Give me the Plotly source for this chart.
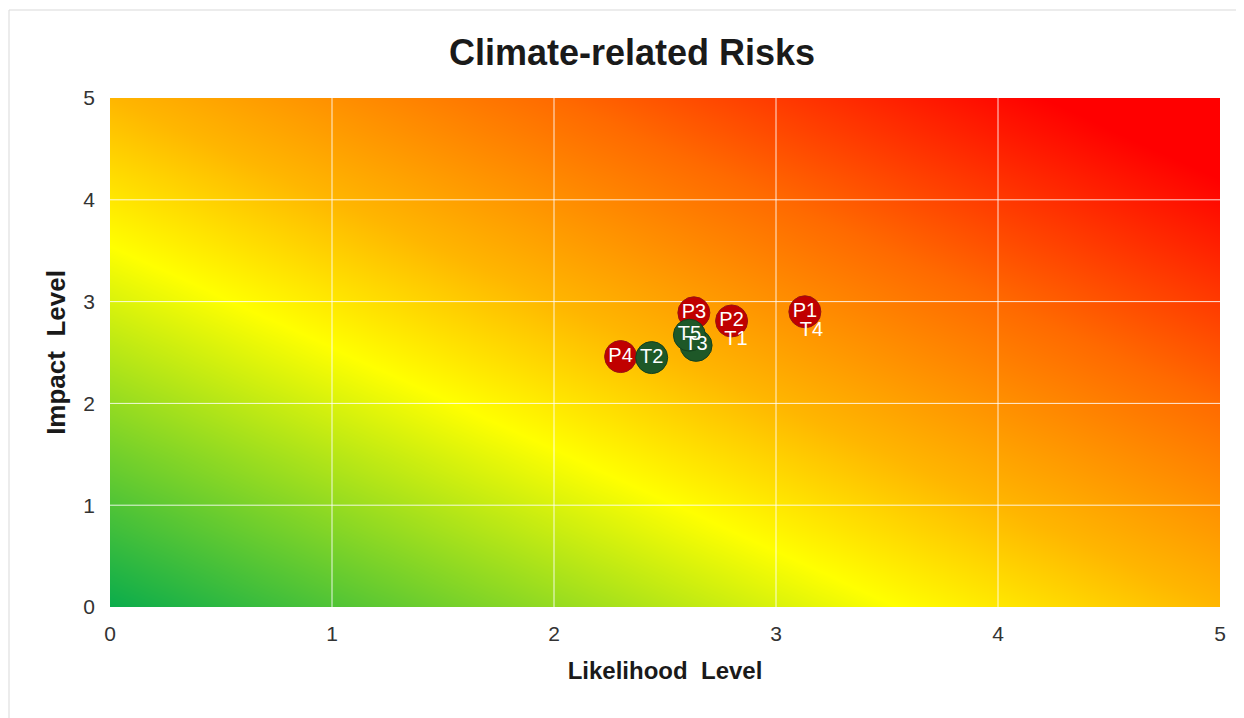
import numpy as np
import plotly.graph_objects as go

# ---- data ----
p_labels = ["P1", "P2", "P3", "P4"]
p_x = [3.13, 2.80, 2.63, 2.30]
p_y = [2.90, 2.81, 2.89, 2.46]

t_labels = ["T1", "T2", "T3", "T4", "T5"]
t_x = [2.82, 2.44, 2.64, 3.16, 2.61]
t_y = [2.62, 2.45, 2.57, 2.71, 2.67]
t_visible = [False, True, True, False, True]

x_ticks = [0, 1, 2, 3, 4, 5]
y_ticks = [0, 1, 2, 3, 4, 5]

FONT = "Arial, Liberation Sans, sans-serif"

# ---- background gradient (diagonal, green -> yellow -> orange -> red) ----
n = 101
gx = np.linspace(0, 5, n)
gy = np.linspace(0, 5, n)
U, V = np.meshgrid(gx / 5.0, gy / 5.0)
Z = (U + V) / 2.0
bg_scale = [
    [0.0, "rgb(10,172,76)"],
    [0.355, "rgb(255,255,0)"],
    [0.5, "rgb(255,182,0)"],
    [0.7, "rgb(255,106,0)"],
    [0.92, "rgb(255,0,0)"],
    [1.0, "rgb(255,0,0)"],
]

fig = go.Figure()
fig.add_trace(go.Heatmap(x=gx, y=gy, z=Z, colorscale=bg_scale, zmin=0, zmax=1,
                         zsmooth="best", showscale=False, hoverinfo="skip"))

# ---- gridlines (between background and markers) ----
gl_x, gl_y = [], []
for k in x_ticks[1:-1]:
    gl_x += [k, k, None]
    gl_y += [y_ticks[0], y_ticks[-1], None]
for k in y_ticks[1:-1]:
    gl_x += [x_ticks[0], x_ticks[-1], None]
    gl_y += [k, k, None]
fig.add_trace(go.Scatter(x=gl_x, y=gl_y, mode="lines",
                         line=dict(color="rgba(255,255,255,0.85)", width=1),
                         hoverinfo="skip", showlegend=False))

# ---- P series ----
fig.add_trace(go.Scatter(
    x=p_x, y=p_y, mode="markers+text", text=p_labels, textposition="middle center",
    marker=dict(size=32, color="rgb(192,0,0)", line=dict(color="rgb(150,20,20)", width=1)),
    textfont=dict(family=FONT, size=20, color="white"), showlegend=False))

# ---- T series ----
t_colors = ["rgb(30,88,40)" if v else "rgba(0,0,0,0)" for v in t_visible]
t_lines = ["rgb(20,65,30)" if v else "rgba(0,0,0,0)" for v in t_visible]
fig.add_trace(go.Scatter(
    x=t_x, y=t_y, mode="markers+text", text=t_labels, textposition="middle center",
    marker=dict(size=32, color=t_colors, line=dict(color=t_lines, width=1)),
    textfont=dict(family=FONT, size=20, color="white"), showlegend=False))

fig.update_layout(
    width=1244, height=718,
    margin=dict(l=102, r=32, t=90, b=119),
    paper_bgcolor="white", plot_bgcolor="white",
    title=dict(text="<b>Climate-related Risks</b>", x=624 / 1244, xref="container",
               y=1 - 44 / 718, yref="container", xanchor="center", yanchor="middle",
               font=dict(family=FONT, size=36, color="#1a1a1a")),
    xaxis=dict(range=[0, 5], tickvals=x_ticks, showgrid=False, zeroline=False,
               showline=False, ticks="", ticklabelstandoff=12,
               tickfont=dict(family=FONT, size=21, color="#333"),
               title=dict(text="<b>Likelihood  Level</b>", standoff=18,
                          font=dict(family=FONT, size=24, color="#1a1a1a"))),
    yaxis=dict(range=[0, 5], tickvals=y_ticks, showgrid=False, zeroline=False,
               showline=False, ticks="", ticklabelstandoff=14,
               tickfont=dict(family=FONT, size=21, color="#333"),
               title=dict(text="<b>Impact  Level</b>", standoff=10,
                          font=dict(family=FONT, size=26, color="#1a1a1a"))),
    shapes=[dict(type="rect", xref="paper", yref="paper",
                 x0=(9 - 110) / 1110, x1=1.06, y0=-0.25, y1=(607 - 10) / 509,
                 line=dict(color="#d9d9d9", width=1), layer="below")],
)

fig.write_html("out.html")
